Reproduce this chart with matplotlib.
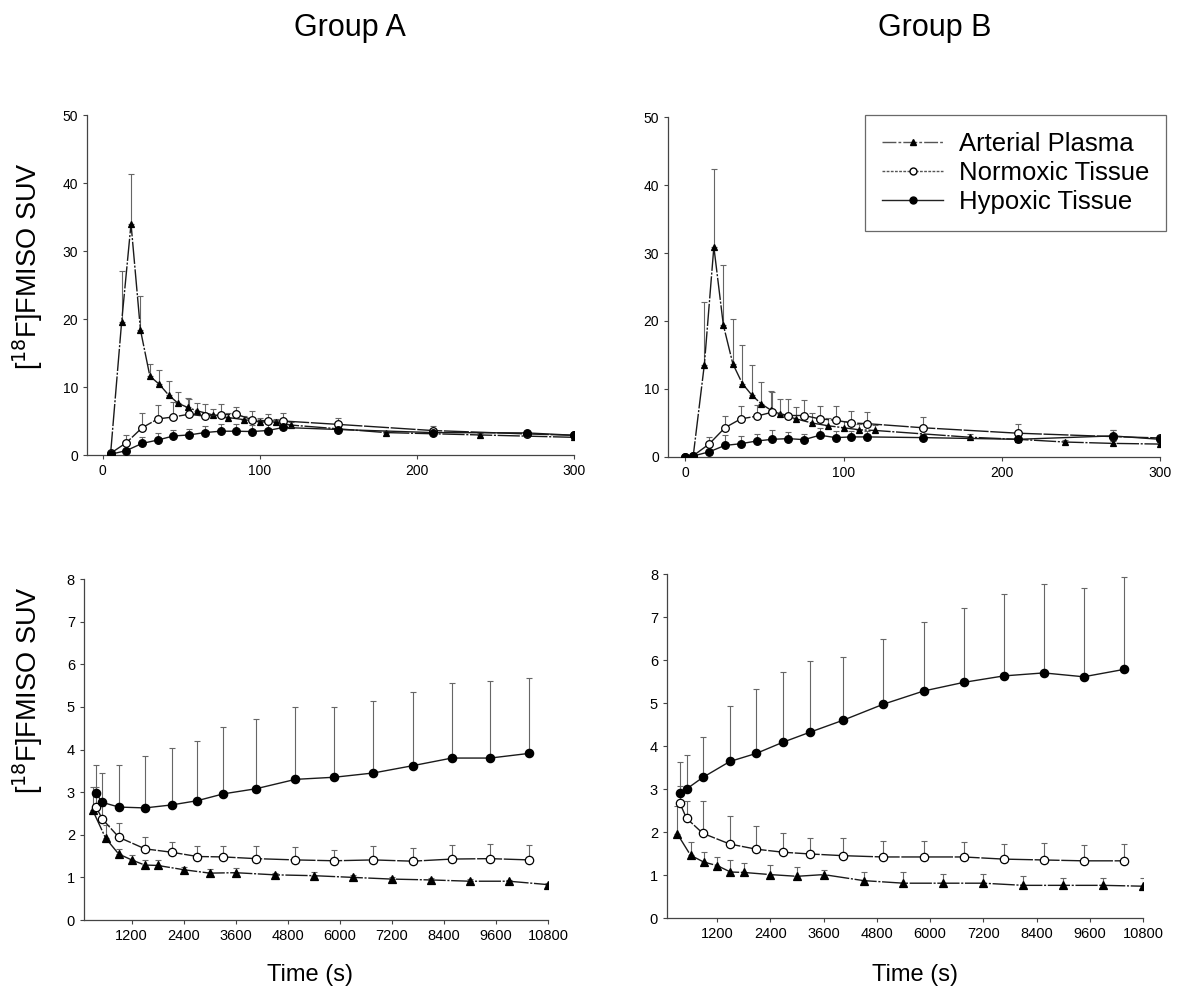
import matplotlib
matplotlib.use("Agg")
import matplotlib.pyplot as plt
from matplotlib.lines import Line2D
import numpy as np

plt.rcParams['font.family'] = ['Liberation Sans', 'DejaVu Sans']

# ---- Group A, early phase (0-300 s)
a_early_t_pl = [5, 12, 18, 24, 30, 36, 42, 48, 54, 60, 70, 80, 90, 100, 110, 120, 180, 240, 300]
a_early_pl = [0.2, 19.5, 34.0, 18.4, 11.6, 10.4, 8.8, 7.6, 7.0, 6.5, 5.9, 5.5, 5.2, 4.9, 4.8, 4.4, 3.3, 2.95, 2.6]
a_early_pl_sd = [0, 7.5, 7.4, 5.0, 1.8, 2.1, 2.1, 1.6, 1.4, 1.1, 0.9, 0.7, 0.6, 0.5, 0.5, 0.4, 0.3, 0.3, 0.3]
a_early_t_ti = [5, 15, 25, 35, 45, 55, 65, 75, 85, 95, 105, 115, 150, 210, 270, 300]
a_early_no = [0.25, 1.8, 4.0, 5.3, 5.6, 6.0, 5.7, 5.9, 6.0, 5.2, 5.0, 5.0, 4.5, 3.6, 3.1, 2.9]
a_early_no_sd = [0, 1.2, 2.2, 2.0, 2.2, 2.3, 1.8, 1.6, 1.1, 1.2, 1.1, 1.2, 0.9, 0.7, 0.4, 0.3]
a_early_hy = [0.1, 0.65, 1.7, 2.2, 2.8, 2.95, 3.3, 3.5, 3.5, 3.45, 3.6, 4.05, 3.75, 3.3, 3.25, 2.9]
a_early_hy_sd = [0, 0.3, 0.9, 1.1, 0.9, 0.9, 1.0, 1.1, 1.1, 1.0, 1.2, 0.9, 0.4, 0.4, 0.3, 0.2]

# ---- Group B, early phase (0-300 s)
b_early_t_pl = [0, 5, 12, 18, 24, 30, 36, 42, 48, 54, 60, 70, 80, 90, 100, 110, 120, 180, 210, 240, 270, 300]
b_early_pl = [0, 0.25, 13.6, 30.9, 19.4, 13.7, 10.8, 9.1, 7.8, 6.9, 6.3, 5.6, 5.0, 4.6, 4.3, 4.0, 3.9, 2.9, 2.6, 2.2, 2.0, 1.9]
b_early_pl_sd = [0, 0, 9.2, 11.5, 8.8, 6.6, 5.6, 4.4, 3.2, 2.8, 2.3, 1.8, 1.5, 1.2, 1.0, 0.9, 0.8, 0.5, 0.4, 0.3, 0.3, 0.3]
b_early_t_ti = [0, 5, 15, 25, 35, 45, 55, 65, 75, 85, 95, 105, 115, 150, 210, 270, 300]
b_early_no = [0, 0.2, 1.9, 4.3, 5.6, 6.0, 6.6, 6.1, 6.1, 5.6, 5.4, 5.0, 4.9, 4.3, 3.5, 3.0, 2.8]
b_early_no_sd = [0, 0, 1.1, 1.8, 1.85, 1.7, 3.0, 2.4, 2.3, 1.9, 2.1, 1.8, 1.7, 1.6, 1.3, 0.9, 0.5]
b_early_hy = [0, 0.15, 0.75, 1.7, 1.95, 2.35, 2.6, 2.7, 2.55, 3.2, 2.85, 2.95, 2.95, 2.85, 2.6, 3.1, 2.6]
b_early_hy_sd = [0, 0, 0.3, 1.5, 1.1, 1.0, 1.4, 1.0, 0.9, 1.0, 1.0, 0.9, 0.9, 0.5, 0.4, 0.9, 0.3]

# ---- Group A, late phase (to 10800 s)
a_late_t_pl = [300, 600, 900, 1200, 1500, 1800, 2400, 3000, 3600, 4500, 5400, 6300, 7200, 8100, 9000, 9900, 10800]
a_late_pl = [2.58, 1.92, 1.55, 1.41, 1.29, 1.28, 1.18, 1.10, 1.11, 1.06, 1.04, 1.00, 0.96, 0.94, 0.91, 0.91, 0.83]
a_late_pl_sd = [0.55, 0.3, 0.11, 0.12, 0.12, 0.13, 0.06, 0.09, 0.11, 0.05, 0.08, 0.05, 0.05, 0.04, 0.05, 0.04, 0.03]
a_late_t_ti = [376, 523, 907, 1507, 2122, 2715, 3315, 4068, 4976, 5876, 6776, 7676, 8584, 9468, 10368]
a_late_no = [2.66, 2.37, 1.94, 1.67, 1.59, 1.49, 1.48, 1.44, 1.41, 1.39, 1.41, 1.38, 1.43, 1.44, 1.41]
a_late_no_sd = [0.45, 0.3, 0.33, 0.27, 0.25, 0.24, 0.25, 0.29, 0.3, 0.26, 0.32, 0.31, 0.33, 0.34, 0.34]
a_late_hy = [2.98, 2.76, 2.65, 2.63, 2.70, 2.80, 2.96, 3.08, 3.30, 3.35, 3.45, 3.62, 3.80, 3.80, 3.91]
a_late_hy_sd = [0.65, 0.69, 0.98, 1.22, 1.33, 1.41, 1.56, 1.63, 1.70, 1.65, 1.68, 1.72, 1.75, 1.80, 1.76]

# ---- Group B, late phase (to 10800 s)
b_late_t_pl = [300, 600, 900, 1200, 1500, 1800, 2400, 3000, 3600, 4500, 5400, 6300, 7200, 8100, 9000, 9900, 10800]
b_late_pl = [1.96, 1.46, 1.30, 1.22, 1.07, 1.06, 1.01, 0.97, 1.01, 0.87, 0.81, 0.81, 0.81, 0.76, 0.76, 0.76, 0.74]
b_late_pl_sd = [0.65, 0.30, 0.23, 0.21, 0.27, 0.23, 0.23, 0.21, 0.11, 0.19, 0.25, 0.22, 0.22, 0.21, 0.18, 0.17, 0.20]
b_late_t_ti = [360, 509, 877, 1486, 2087, 2688, 3289, 4040, 4941, 5858, 6759, 7661, 8563, 9463, 10365]
b_late_no = [2.67, 2.32, 1.97, 1.72, 1.60, 1.53, 1.49, 1.45, 1.42, 1.42, 1.42, 1.37, 1.35, 1.33, 1.33]
b_late_no_sd = [0.4, 0.4, 0.74, 0.66, 0.54, 0.44, 0.37, 0.41, 0.38, 0.36, 0.34, 0.35, 0.39, 0.36, 0.38]
b_late_hy = [2.90, 3.00, 3.27, 3.64, 3.83, 4.09, 4.32, 4.60, 4.97, 5.28, 5.48, 5.63, 5.70, 5.61, 5.78]
b_late_hy_sd = [0.72, 0.78, 0.93, 1.30, 1.50, 1.62, 1.66, 1.48, 1.51, 1.60, 1.74, 1.90, 2.06, 2.07, 2.15]

labels = ['Arterial Plasma', 'Normoxic Tissue', 'Hypoxic Tissue']
ylab = r'[$^{18}$F]FMISO SUV'

fig = plt.figure(figsize=(11.89, 9.9), dpi=100)

ax_a1 = fig.add_axes([0.0732, 0.5404, 0.4096, 0.3434])
ax_b1 = fig.add_axes([0.5618, 0.5384, 0.4138, 0.3434])
ax_a2 = fig.add_axes([0.0706, 0.0707, 0.3903, 0.3444])
ax_b2 = fig.add_axes([0.5610, 0.0727, 0.4003, 0.3475])


def draw_series(ax, t, v, sd, marker, face, ls, ms):
    sd = np.array(sd)
    ax.errorbar(t, v, yerr=[np.zeros_like(sd), sd], fmt='none', ecolor='#666666',
                elinewidth=0.8, capsize=2.5, capthick=0.8, zorder=2)
    ax.plot(t, v, color='#1a1a1a', linestyle=ls, linewidth=1.0, marker=marker,
            markersize=ms, markerfacecolor=face, markeredgecolor='black',
            markeredgewidth=0.9, zorder=3)


def style(ax, xlim, ylim, xticks, yticks, fs):
    ax.set_xlim(*xlim)
    ax.set_ylim(*ylim)
    ax.set_xticks(xticks)
    ax.set_yticks(yticks)
    for s in ['top', 'right']:
        ax.spines[s].set_visible(False)
    for s in ['left', 'bottom']:
        ax.spines[s].set_color('#444444')
        ax.spines[s].set_linewidth(0.9)
    ax.tick_params(direction='out', length=3, width=0.8, colors='#444444',
                   labelsize=fs, labelcolor='black')


pl_ls = (0, (16, 1.2, 1.5, 1.2))
no_ls = (0, (18, 1.2))
hy_ls = '-'

panels = [
    (ax_a1, 5.5, (a_early_t_pl, a_early_pl, a_early_pl_sd, a_early_t_ti, a_early_no, a_early_no_sd, a_early_hy, a_early_hy_sd)),
    (ax_b1, 5.5, (b_early_t_pl, b_early_pl, b_early_pl_sd, b_early_t_ti, b_early_no, b_early_no_sd, b_early_hy, b_early_hy_sd)),
    (ax_a2, 6.0, (a_late_t_pl, a_late_pl, a_late_pl_sd, a_late_t_ti, a_late_no, a_late_no_sd, a_late_hy, a_late_hy_sd)),
    (ax_b2, 6.0, (b_late_t_pl, b_late_pl, b_late_pl_sd, b_late_t_ti, b_late_no, b_late_no_sd, b_late_hy, b_late_hy_sd)),
]
for ax, ms, data in panels:
    tp, pl, plsd, tt, no, nosd, hy, hysd = data
    draw_series(ax, tp, pl, plsd, '^', 'black', pl_ls, ms - 0.5)
    draw_series(ax, tt, no, nosd, 'o', 'white', no_ls, ms)
    draw_series(ax, tt, hy, hysd, 'o', 'black', hy_ls, ms)

style(ax_a1, (-10, 300), (0, 50), [0, 100, 200, 300], range(0, 51, 10), 10)
style(ax_b1, (-11, 300), (0, 50), [0, 100, 200, 300], range(0, 51, 10), 10)
late_ticks = list(range(1200, 10801, 1200))
style(ax_a2, (100, 10800), (0, 8), late_ticks, range(0, 9), 10.5)
style(ax_b2, (70, 10800), (0, 8), late_ticks, range(0, 9), 10.5)

# legend key with small markers, as in the original
leg_handles = [
    Line2D([], [], color='#555555', linestyle=(0, (10, 1.5, 2, 1.5)), linewidth=1.0, marker='^',
           markersize=5, markerfacecolor='black', markeredgecolor='black'),
    Line2D([], [], color='#555555', linestyle=(0, (2, 1)), linewidth=1.0, marker='o', markersize=5,
           markerfacecolor='white', markeredgecolor='black'),
    Line2D([], [], color='#222222', linestyle='-', linewidth=1.0, marker='o', markersize=5,
           markerfacecolor='black', markeredgecolor='black'),
]
leg = fig.legend(leg_handles, labels, loc='upper left', bbox_to_anchor=(0.7275, 0.8838),
                 fontsize=18.5, frameon=True, fancybox=False, handlelength=2.4,
                 handletextpad=0.6, labelspacing=0.2, borderpad=0.65, borderaxespad=0)
leg.get_frame().set_edgecolor('#444444')
leg.get_frame().set_linewidth(0.9)

fig.text(0.2944, 0.9717, 'Group A', ha='center', va='center', fontsize=22)
fig.text(0.786, 0.9717, 'Group B', ha='center', va='center', fontsize=22)
fig.text(0.0235, 0.7313, ylab, rotation=90, ha='center', va='center', fontsize=19.5)
fig.text(0.0235, 0.303, ylab, rotation=90, ha='center', va='center', fontsize=19.5)
fig.text(0.2607, 0.0152, 'Time (s)', ha='center', va='center', fontsize=17)
fig.text(0.7696, 0.0152, 'Time (s)', ha='center', va='center', fontsize=17)

fig.savefig('out.png', dpi=100, facecolor='white')
